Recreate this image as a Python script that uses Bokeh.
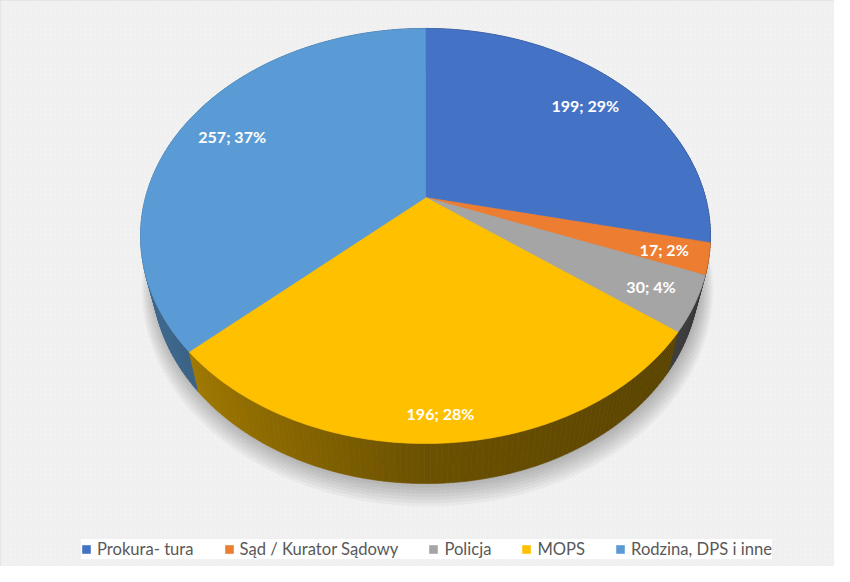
import numpy as np
from bokeh.plotting import figure
from bokeh.models import Range1d, ColumnDataSource, Legend, LegendItem
from bokeh.core.properties import value
from bokeh.embed import file_html
from bokeh.resources import INLINE

# ---- data ----
categories = ["Prokura- tura", "Sąd / Kurator Sądowy", "Policja", "MOPS", "Rodzina, DPS i inne"]
counts = [199, 17, 30, 196, 257]
percents = ["29%", "2%", "4%", "28%", "37%"]
colors = ["#4472C4", "#ED7D31", "#A5A5A5", "#FFC000", "#5B9BD5"]

# ---- layout constants ----
W, H = 834, 566
CX, CY = 425, 197          # projected centre of the top face
A, B, K = 280, 200.4, 0.1855
SHRINK, DEPTH = 0.96, 40.6
label_radius = [0.8, 0.85, 0.85, 0.9, 0.8]


def proj(r, t, bottom=False):
    u = r * np.sin(t)
    v = r * np.cos(t)
    w = 1 + K * v
    if bottom:
        return CX + SHRINK * A * u / w, CY - SHRINK * B * v / w + DEPTH / w
    return CX + A * u / w, CY - B * v / w


def shade(hexcol, t):
    s = -np.sin(t)
    f = 0.42 + (0.28 if s > 0 else 0.08) * s
    h = hexcol.lstrip("#")
    rgb = [int(h[i:i + 2], 16) for i in (0, 2, 4)]
    return "#%02x%02x%02x" % tuple(max(0, min(255, int(c * f))) for c in rgb)


total = float(sum(counts))
fr = np.cumsum([0] + counts) / total
starts = fr[:-1] * 2 * np.pi
ends = fr[1:] * 2 * np.pi

p = figure(width=W, height=H, x_range=Range1d(0, W), y_range=Range1d(H, 0),
           output_backend="svg", toolbar_location=None, min_border=0)
p.axis.visible = False
p.grid.visible = False
p.background_fill_color = "white"
p.border_fill_color = "white"
p.outline_line_color = "#d9d9d9"
p.outline_line_width = 2

# hatched background
p.quad(left=0, right=W, top=0, bottom=H, fill_color="white",
       hatch_pattern="left_diagonal_line", hatch_color="#f0f0f0",
       hatch_scale=5, hatch_weight=2.2, line_color=None)

# soft shadow
tt = np.linspace(0, 2 * np.pi, 240)
for i in range(8):
    xs, ys = proj(1.0 + 0.006 * i, tt, bottom=True)
    p.patch(list(xs + 2), list(ys + 1 + 1.3 * i), fill_color="black",
            fill_alpha=0.035, line_color=None)

# rims (sides), drawn far-to-near
seg_xs, seg_ys, seg_col, seg_depth = [], [], [], []
for i in range(len(counts)):
    n = max(2, int(np.degrees(ends[i] - starts[i]) / 1.0) + 1)
    ts = np.linspace(starts[i], ends[i], n)
    for a, b in zip(ts[:-1], ts[1:]):
        x1, y1 = proj(1, a)
        x2, y2 = proj(1, b)
        x3, y3 = proj(1, b, bottom=True)
        x4, y4 = proj(1, a, bottom=True)
        seg_xs.append([x1, x2, x3, x4])
        seg_ys.append([y1, y2, y3, y4])
        m = 0.5 * (a + b)
        seg_col.append(shade(colors[i], m))
        seg_depth.append(np.cos(m))
order = np.argsort(seg_depth)[::-1]
p.patches([seg_xs[j] for j in order], [seg_ys[j] for j in order],
          fill_color=[seg_col[j] for j in order],
          line_color=[seg_col[j] for j in order], line_width=0.6)

# top faces
top_xs, top_ys = [], []
for i in range(len(counts)):
    n = max(3, int(np.degrees(ends[i] - starts[i]) / 0.5) + 1)
    ts = np.linspace(starts[i], ends[i], n)
    ax, ay = proj(1, ts)
    top_xs.append([CX] + list(ax))
    top_ys.append([CY] + list(ay))
src = ColumnDataSource(dict(xs=top_xs, ys=top_ys, color=colors, label=categories))
top_r = p.patches("xs", "ys", source=src, fill_color="color", line_color="color", line_width=0.6)

# data labels
mid = 0.5 * (starts + ends)
lx, ly = [], []
for i in range(len(counts)):
    x, y = proj(label_radius[i], mid[i])
    lx.append(x)
    ly.append(y)
labels = ["%d; %s" % (c, pc) for c, pc in zip(counts, percents)]
p.text(x=lx, y=ly, text=labels, text_color="white", text_font=value("Lato"),
       text_font_style="bold", text_font_size="16px", text_align="center",
       text_baseline="middle")

legend = Legend(items=[LegendItem(label=categories[i], renderers=[top_r], index=i)
                       for i in range(len(categories))],
                orientation="horizontal", location=(81, 7),
                glyph_width=10, glyph_height=10, label_standoff=6, spacing=30,
                padding=10, margin=0, label_height=16,
                label_text_font="Lato", label_text_font_size="16.6px",
                label_text_color="#595959",
                background_fill_color="white", background_fill_alpha=1.0,
                border_line_color=None)
p.add_layout(legend, "center")

open("out.html", "w").write(file_html(p, INLINE))
